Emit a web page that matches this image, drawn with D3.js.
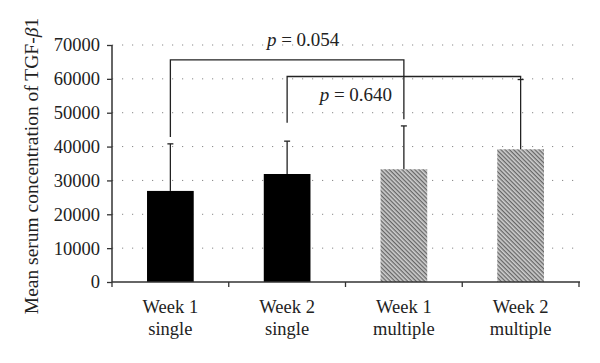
<!DOCTYPE html>
<html>
<head>
<meta charset="utf-8">
<script src="https://cdn.jsdelivr.net/npm/d3@7"></script>
<style>
  body { margin: 0; background: #fff; }
  text { font-family: "Liberation Serif", "DejaVu Serif", serif; fill: #222; }
</style>
</head>
<body>
<div id="chart"></div>
<script>
var svgWidth = 600;
var svgHeight = 363;

// data
var categories = ["Week 1|single", "Week 2|single", "Week 1|multiple", "Week 2|multiple"];
var means = [26900, 31900, 33300, 39200];
var upperErr = [40800, 41600, 46100, 59800];
var isMultiple = [false, false, true, true];
var yTicks = [0, 10000, 20000, 30000, 40000, 50000, 60000, 70000];

// significance brackets: from / to category index, level, leg bottoms, label
var brackets = [
  { from: 0, to: 2, level: 65600, leftEnd: 42800, rightEnd: 48100, label: "0.054", labelY: 69700, dx: 16 },
  { from: 1, to: 3, level: 60700, leftEnd: 47000, rightEnd: 59800, label: "0.640", labelY: 53400, dx: -48 }
];

var svg = d3.select("#chart")
  .append("svg")
  .attr("width", svgWidth)
  .attr("height", svgHeight);

var defs = svg.append("defs");
var pat = defs.append("pattern")
  .attr("id", "hatch")
  .attr("patternUnits", "userSpaceOnUse")
  .attr("width", 3)
  .attr("height", 3)
  .attr("patternTransform", "rotate(45)");
pat.append("rect").attr("width", 3).attr("height", 3).attr("fill", "#cfcfcf");
pat.append("rect").attr("width", 3).attr("height", 1.3).attr("fill", "#666");

var xScale = d3.scaleBand()
  .domain(categories)
  .range([112, 579])
  .paddingInner(0.6)
  .paddingOuter(0.3);

var yScale = d3.scaleLinear()
  .domain([0, 70000])
  .range([282, 45]);

// dotted grid
svg.append("g")
  .selectAll("line")
  .data(yTicks.filter(d => d > 0))
  .enter()
  .append("line")
  .attr("x1", 112)
  .attr("x2", 580)
  .attr("y1", d => yScale(d))
  .attr("y2", d => yScale(d))
  .attr("stroke", "#888")
  .attr("stroke-width", 1)
  .attr("stroke-dasharray", "1.2,8.8");

// bars
svg.append("g")
  .selectAll("rect")
  .data(categories)
  .enter()
  .append("rect")
  .attr("x", d => xScale(d))
  .attr("width", xScale.bandwidth())
  .attr("y", (d, i) => yScale(means[i]))
  .attr("height", (d, i) => yScale(0) - yScale(means[i]))
  .attr("fill", (d, i) => isMultiple[i] ? "url(#hatch)" : "#000");

// error bars (upper only)
var cx = d => xScale(d) + xScale.bandwidth() / 2;
var errG = svg.append("g").attr("stroke", "#222").attr("stroke-width", 1.3);
errG.selectAll("line.v")
  .data(categories)
  .enter()
  .append("line")
  .attr("class", "v")
  .attr("x1", cx).attr("x2", cx)
  .attr("y1", (d, i) => yScale(means[i]))
  .attr("y2", (d, i) => yScale(upperErr[i]));
errG.selectAll("line.cap")
  .data(categories)
  .enter()
  .append("line")
  .attr("class", "cap")
  .attr("x1", d => cx(d) - 3).attr("x2", d => cx(d) + 3)
  .attr("y1", (d, i) => yScale(upperErr[i]))
  .attr("y2", (d, i) => yScale(upperErr[i]));

// brackets
var brG = svg.append("g");
brackets.forEach(function(b) {
  var x1 = cx(categories[b.from]);
  var x2 = cx(categories[b.to]);
  brG.append("path")
    .attr("d", `M${x1},${yScale(b.leftEnd)}V${yScale(b.level)}H${x2}V${yScale(b.rightEnd)}`)
    .attr("fill", "none")
    .attr("stroke", "#222")
    .attr("stroke-width", 1.3);
  var t = brG.append("text")
    .attr("x", (x1 + x2) / 2 + b.dx)
    .attr("y", yScale(b.labelY))
    .attr("text-anchor", "middle")
    .style("font-size", "19px");
  t.append("tspan").style("font-style", "italic").text("p");
  t.append("tspan").text(" = " + b.label);
});

// y axis
var yAxis = svg.append("g")
  .attr("transform", "translate(112,0)")
  .call(d3.axisLeft(yScale).tickValues(yTicks).tickFormat(d3.format("d")).tickSize(5).tickPadding(7));
yAxis.selectAll("text").style("font-size", "18.5px").attr("fill", "#222");
yAxis.selectAll("line").attr("stroke", "#333").attr("stroke-width", 1.3);
yAxis.select(".domain").attr("stroke", "#333").attr("stroke-width", 1.5).attr("d", "M0,282V45");

// x axis
var step = xScale.step();
var bounds = d3.range(categories.length + 1).map(i => 112 + i * step);
var xAxisG = svg.append("g");
xAxisG.append("line")
  .attr("x1", 112).attr("x2", 580)
  .attr("y1", 282).attr("y2", 282)
  .attr("stroke", "#333").attr("stroke-width", 1.5);
xAxisG.selectAll("line.tick")
  .data(bounds)
  .enter()
  .append("line")
  .attr("class", "tick")
  .attr("x1", d => d).attr("x2", d => d)
  .attr("y1", 282).attr("y2", 287)
  .attr("stroke", "#333").attr("stroke-width", 1.3);

var xl = xAxisG.selectAll("text")
  .data(categories)
  .enter()
  .append("text")
  .attr("text-anchor", "middle")
  .style("font-size", "18.5px");
xl.append("tspan").attr("x", cx).attr("y", 313).text(d => d.split("|")[0]);
xl.append("tspan").attr("x", cx).attr("y", 335).text(d => d.split("|")[1]);

// y label
var yl = svg.append("text")
  .attr("transform", "translate(38,166) rotate(-90)")
  .attr("text-anchor", "middle")
  .style("font-size", "19.5px");
yl.append("tspan").text("Mean serum concentration of TGF-");
yl.append("tspan").style("font-style", "italic").text("\u03B2");
yl.append("tspan").text("1");
</script>
</body>
</html>
